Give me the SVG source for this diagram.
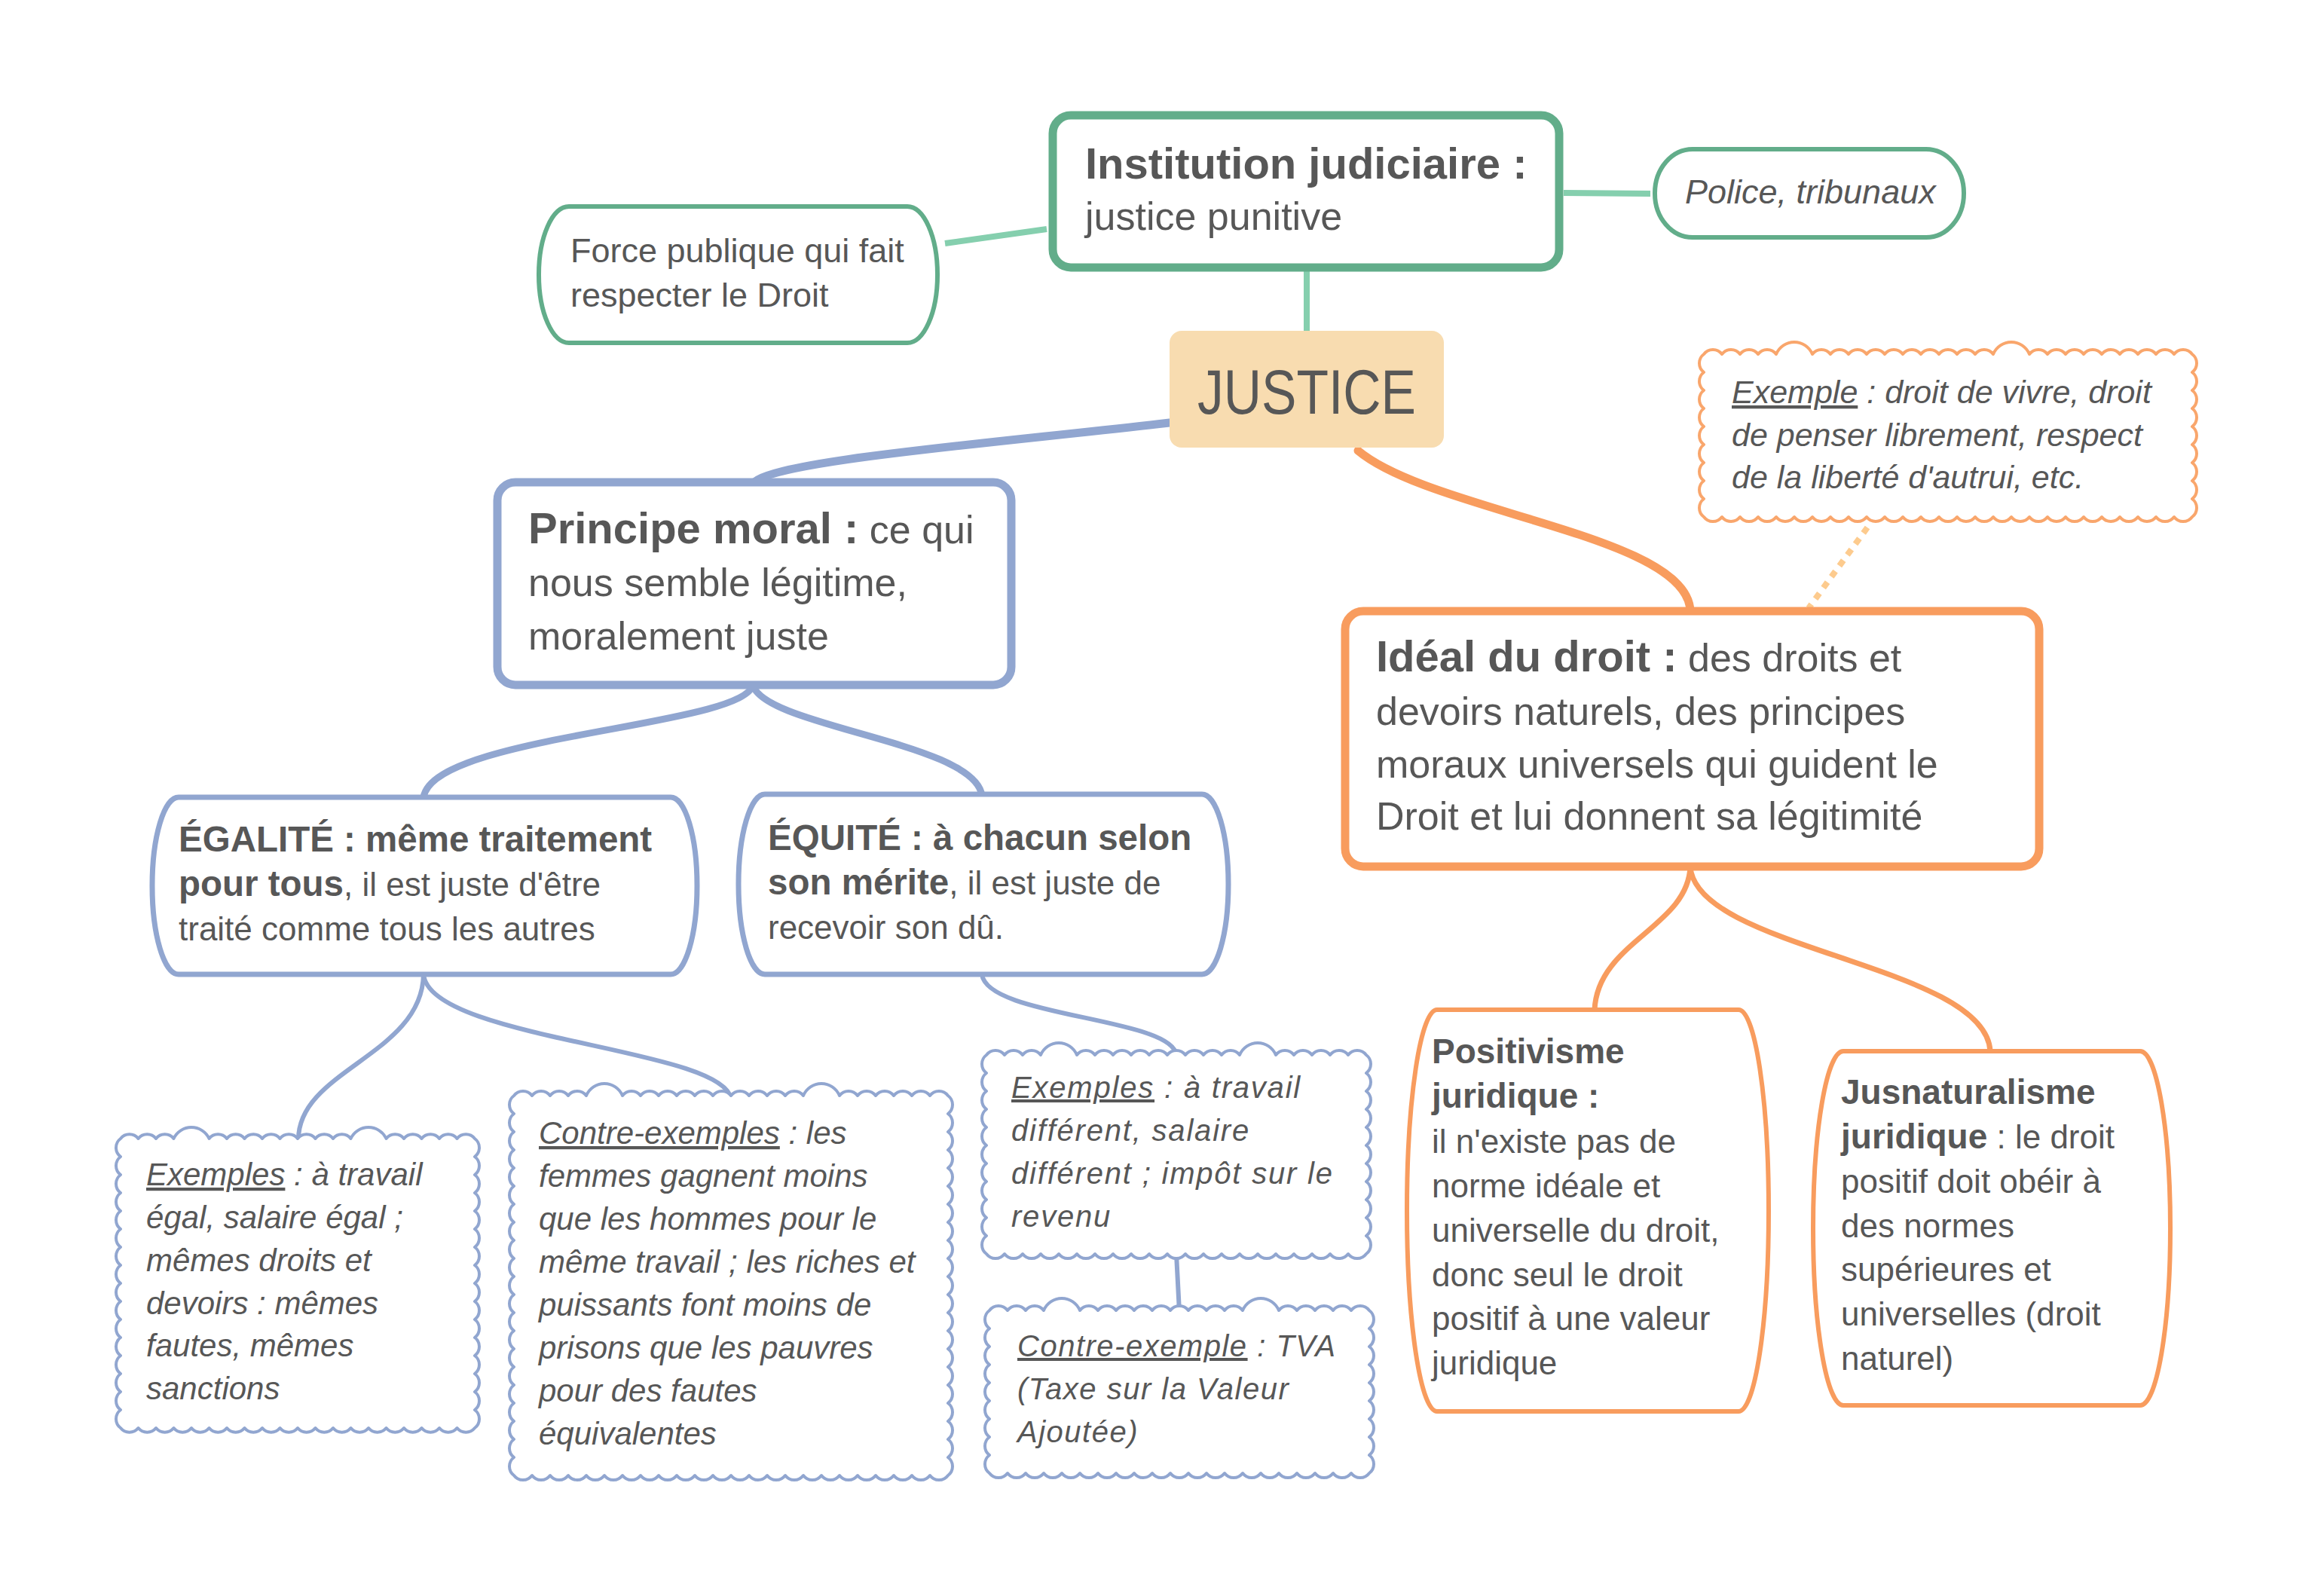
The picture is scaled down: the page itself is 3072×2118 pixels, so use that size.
<svg xmlns="http://www.w3.org/2000/svg" width="3072" height="2118" viewBox="0 0 3072 2118">
<style>
.t{font-family:"Liberation Sans",Arial,sans-serif;fill:#575757}
.b{font-weight:bold}
.i{font-style:italic}
.u{text-decoration:underline}
.g{fill:#fff;stroke:#62AD8A}
.bl{fill:#fff;stroke:#91A6D0}
.or{fill:#fff;stroke:#F89C5E}
.cb{fill:#fff;stroke:#91A6D0;stroke-width:4;stroke-linejoin:round}
.co{fill:#fff;stroke:#F9A66C;stroke-width:4;stroke-linejoin:round}
.cg{fill:none;stroke:#85CFAE;stroke-width:8}
.cbl{fill:none;stroke:#91A6D0;stroke-linecap:round}
.cor{fill:none;stroke:#F89C5E;stroke-linecap:round}
</style>
<rect width="3072" height="2118" fill="#fff"/>
<g id="connectors">
<path class="cg" d="M1254,323 L1389,304"/>
<path class="cg" d="M2075,256 L2190,257"/>
<path class="cg" d="M1734,356 L1734,440"/>
<path class="cbl" stroke-width="11" d="M1552,561 C1300,590 1020,612 999,642"/>
<path class="cbl" stroke-width="9" d="M999,909 C985,965 575,975 562,1058"/>
<path class="cbl" stroke-width="9" d="M999,909 C1015,965 1295,985 1303,1056"/>
<path class="cbl" stroke-width="6" d="M562,1293 C560,1400 396,1420 396,1512"/>
<path class="cbl" stroke-width="6" d="M562,1293 C570,1380 960,1390 970,1458"/>
<path class="cbl" stroke-width="6" d="M1303,1293 C1310,1350 1555,1350 1561,1400"/>
<path class="cbl" stroke-width="6" d="M1561,1664 L1565,1741"/>
<path class="cor" stroke-width="11" d="M1802,598 C1900,680 2240,710 2243,811"/>
<path class="cor" stroke-width="7" d="M2243,1150 C2240,1230 2120,1250 2116,1340"/>
<path class="cor" stroke-width="7" d="M2243,1150 C2250,1260 2635,1280 2641,1395"/>
<path fill="none" stroke="#FDCB8E" stroke-width="8" stroke-dasharray="9 9" d="M2478,700 L2400,807"/>
</g>
<g id="institution">
<rect class="g" x="1397" y="153" width="672" height="202" rx="24" stroke-width="11"/>
<text class="t" x="1440" y="237" font-size="58"><tspan class="b">Institution judiciaire :</tspan></text>
<text class="t" x="1440" y="305" font-size="52">justice punitive</text>
</g>
<g id="force">
<rect class="g" x="715" y="274" width="529" height="181" rx="40" ry="90" stroke-width="6"/>
<text class="t" x="757" y="348" font-size="45">Force publique qui fait</text>
<text class="t" x="757" y="407" font-size="45">respecter le Droit</text>
</g>
<g id="police">
<rect class="g" x="2196" y="198" width="410" height="117" rx="50" ry="58" stroke-width="6"/>
<text class="t i" x="2236" y="270" font-size="45">Police, tribunaux</text>
</g>
<g id="justice">
<rect x="1552" y="439" width="364" height="155" rx="16" fill="#F8DCB0"/>
<text class="t" x="1734" y="549" font-size="84" text-anchor="middle" textLength="290" lengthAdjust="spacingAndGlyphs">JUSTICE</text>
</g>
<g id="exemple-droit">
<path class="co" d="M2261,470 a15,15 0 0 1 24,0 a15,15 0 0 1 24,0 a15,15 0 0 1 24,0 a15,15 0 0 1 24,0 a26,26 0 0 1 48,0 a15,15 0 0 1 24,0 a15,15 0 0 1 24,0 a15,15 0 0 1 24,0 a15,15 0 0 1 24,0 a15,15 0 0 1 24,0 a15,15 0 0 1 24,0 a15,15 0 0 1 24,0 a15,15 0 0 1 24,0 a15,15 0 0 1 24,0 a15,15 0 0 1 24,0 a26,26 0 0 1 48,0 a15,15 0 0 1 24,0 a15,15 0 0 1 24,0 a15,15 0 0 1 24,0 a15,15 0 0 1 24,0 a15,15 0 0 1 24,0 a15,15 0 0 1 24,0 a15,15 0 0 1 24,0 a15,15 0 0 1 24,0 a15,15 0 0 1 24,0 a15,15 0 0 1 0,24 a15,15 0 0 1 0,24 a15,15 0 0 1 0,24 a15,15 0 0 1 0,24 a15,15 0 0 1 0,24 a15,15 0 0 1 0,24 a15,15 0 0 1 0,24 a15,15 0 0 1 0,24 a15,15 0 0 1 0,24 a15,15 0 0 1 -24,0 a15,15 0 0 1 -24,0 a15,15 0 0 1 -24,0 a15,15 0 0 1 -24,0 a15,15 0 0 1 -24,0 a15,15 0 0 1 -24,0 a15,15 0 0 1 -24,0 a15,15 0 0 1 -24,0 a15,15 0 0 1 -24,0 a15,15 0 0 1 -24,0 a15,15 0 0 1 -24,0 a15,15 0 0 1 -24,0 a15,15 0 0 1 -24,0 a15,15 0 0 1 -24,0 a15,15 0 0 1 -24,0 a15,15 0 0 1 -24,0 a15,15 0 0 1 -24,0 a15,15 0 0 1 -24,0 a15,15 0 0 1 -24,0 a15,15 0 0 1 -24,0 a15,15 0 0 1 -24,0 a15,15 0 0 1 -24,0 a15,15 0 0 1 -24,0 a15,15 0 0 1 -24,0 a15,15 0 0 1 -24,0 a15,15 0 0 1 -24,0 a15,15 0 0 1 -24,0 a15,15 0 0 1 0,-24 a15,15 0 0 1 0,-24 a15,15 0 0 1 0,-24 a15,15 0 0 1 0,-24 a15,15 0 0 1 0,-24 a15,15 0 0 1 0,-24 a15,15 0 0 1 0,-24 a15,15 0 0 1 0,-24 a15,15 0 0 1 0,-24 Z"/>
<text class="t i" x="2298" y="535" font-size="43"><tspan class="u">Exemple</tspan> : droit de vivre, droit</text>
<text class="t i" x="2298" y="592" font-size="43">de penser librement, respect</text>
<text class="t i" x="2298" y="648" font-size="43">de la liberté d'autrui, etc.</text>
</g>
<g id="principe">
<rect class="bl" x="660" y="640" width="682" height="269" rx="24" stroke-width="11"/>
<text class="t" x="701" y="721" font-size="52"><tspan class="b" font-size="58">Principe moral :</tspan> ce qui</text>
<text class="t" x="701" y="791" font-size="52">nous semble légitime,</text>
<text class="t" x="701" y="862" font-size="52">moralement juste</text>
</g>
<g id="ideal">
<rect class="or" x="1785" y="811" width="921" height="339" rx="24" stroke-width="11"/>
<text class="t" x="1826" y="891" font-size="52"><tspan class="b" font-size="58">Idéal du droit :</tspan> des droits et</text>
<text class="t" x="1826" y="962" font-size="52">devoirs naturels, des principes</text>
<text class="t" x="1826" y="1032" font-size="52">moraux universels qui guident le</text>
<text class="t" x="1826" y="1101" font-size="52">Droit et lui donnent sa légitimité</text>
</g>
<g id="egalite">
<rect class="bl" x="202" y="1058" width="723" height="235" rx="35" ry="117" stroke-width="7"/>
<text class="t" x="237" y="1130" font-size="44"><tspan class="b" font-size="47.5">ÉGALITÉ : même traitement</tspan></text>
<text class="t" x="237" y="1189" font-size="44"><tspan class="b" font-size="47.5">pour tous</tspan>, il est juste d'être</text>
<text class="t" x="237" y="1248" font-size="44">traité comme tous les autres</text>
</g>
<g id="equite">
<rect class="bl" x="980" y="1054" width="650" height="239" rx="35" ry="119" stroke-width="7"/>
<text class="t" x="1019" y="1128" font-size="44"><tspan class="b" font-size="47.5">ÉQUITÉ : à chacun selon</tspan></text>
<text class="t" x="1019" y="1187" font-size="44"><tspan class="b" font-size="47.5">son mérite</tspan>, il est juste de</text>
<text class="t" x="1019" y="1246" font-size="44">recevoir son dû.</text>
</g>
<g id="exemples-egalite">
<path class="cb" d="M160,1511 a15,15 0 0 1 23.5,0 a15,15 0 0 1 23.5,0 a15,15 0 0 1 23.5,0 a26,26 0 0 1 47,0 a15,15 0 0 1 23.5,0 a15,15 0 0 1 23.5,0 a15,15 0 0 1 23.5,0 a15,15 0 0 1 23.5,0 a15,15 0 0 1 23.5,0 a15,15 0 0 1 23.5,0 a15,15 0 0 1 23.5,0 a15,15 0 0 1 23.5,0 a26,26 0 0 1 47,0 a15,15 0 0 1 23.5,0 a15,15 0 0 1 23.5,0 a15,15 0 0 1 23.5,0 a15,15 0 0 1 23.5,0 a15,15 0 0 1 23.5,0 a15,15 0 0 1 0,24 a15,15 0 0 1 0,24 a15,15 0 0 1 0,24 a15,15 0 0 1 0,24 a15,15 0 0 1 0,24 a15,15 0 0 1 0,24 a15,15 0 0 1 0,24 a15,15 0 0 1 0,24 a15,15 0 0 1 0,24 a15,15 0 0 1 0,24 a15,15 0 0 1 0,24 a15,15 0 0 1 0,24 a15,15 0 0 1 0,24 a15,15 0 0 1 0,24 a15,15 0 0 1 0,24 a15,15 0 0 1 0,24 a15,15 0 0 1 -23.5,0 a15,15 0 0 1 -23.5,0 a15,15 0 0 1 -23.5,0 a15,15 0 0 1 -23.5,0 a15,15 0 0 1 -23.5,0 a15,15 0 0 1 -23.5,0 a15,15 0 0 1 -23.5,0 a15,15 0 0 1 -23.5,0 a15,15 0 0 1 -23.5,0 a15,15 0 0 1 -23.5,0 a15,15 0 0 1 -23.5,0 a15,15 0 0 1 -23.5,0 a15,15 0 0 1 -23.5,0 a15,15 0 0 1 -23.5,0 a15,15 0 0 1 -23.5,0 a15,15 0 0 1 -23.5,0 a15,15 0 0 1 -23.5,0 a15,15 0 0 1 -23.5,0 a15,15 0 0 1 -23.5,0 a15,15 0 0 1 -23.5,0 a15,15 0 0 1 0,-24 a15,15 0 0 1 0,-24 a15,15 0 0 1 0,-24 a15,15 0 0 1 0,-24 a15,15 0 0 1 0,-24 a15,15 0 0 1 0,-24 a15,15 0 0 1 0,-24 a15,15 0 0 1 0,-24 a15,15 0 0 1 0,-24 a15,15 0 0 1 0,-24 a15,15 0 0 1 0,-24 a15,15 0 0 1 0,-24 a15,15 0 0 1 0,-24 a15,15 0 0 1 0,-24 a15,15 0 0 1 0,-24 a15,15 0 0 1 0,-24 Z"/>
<text class="t i" x="194" y="1573" font-size="42"><tspan class="u">Exemples</tspan> : à travail</text>
<text class="t i" x="194" y="1630" font-size="42">égal, salaire égal ;</text>
<text class="t i" x="194" y="1687" font-size="42">mêmes droits et</text>
<text class="t i" x="194" y="1744" font-size="42">devoirs : mêmes</text>
<text class="t i" x="194" y="1800" font-size="42">fautes, mêmes</text>
<text class="t i" x="194" y="1857" font-size="42">sanctions</text>
</g>
<g id="contre-exemples-egalite">
<path class="cb" d="M682,1454 a15,15 0 0 1 24,0 a15,15 0 0 1 24,0 a15,15 0 0 1 24,0 a15,15 0 0 1 24,0 a26,26 0 0 1 48,0 a15,15 0 0 1 24,0 a15,15 0 0 1 24,0 a15,15 0 0 1 24,0 a15,15 0 0 1 24,0 a15,15 0 0 1 24,0 a15,15 0 0 1 24,0 a15,15 0 0 1 24,0 a15,15 0 0 1 24,0 a15,15 0 0 1 24,0 a15,15 0 0 1 24,0 a26,26 0 0 1 48,0 a15,15 0 0 1 24,0 a15,15 0 0 1 24,0 a15,15 0 0 1 24,0 a15,15 0 0 1 24,0 a15,15 0 0 1 24,0 a15,15 0 0 1 24,0 a15,15 0 0 1 0,24 a15,15 0 0 1 0,24 a15,15 0 0 1 0,24 a15,15 0 0 1 0,24 a15,15 0 0 1 0,24 a15,15 0 0 1 0,24 a15,15 0 0 1 0,24 a15,15 0 0 1 0,24 a15,15 0 0 1 0,24 a15,15 0 0 1 0,24 a15,15 0 0 1 0,24 a15,15 0 0 1 0,24 a15,15 0 0 1 0,24 a15,15 0 0 1 0,24 a15,15 0 0 1 0,24 a15,15 0 0 1 0,24 a15,15 0 0 1 0,24 a15,15 0 0 1 0,24 a15,15 0 0 1 0,24 a15,15 0 0 1 0,24 a15,15 0 0 1 0,24 a15,15 0 0 1 -24,0 a15,15 0 0 1 -24,0 a15,15 0 0 1 -24,0 a15,15 0 0 1 -24,0 a15,15 0 0 1 -24,0 a15,15 0 0 1 -24,0 a15,15 0 0 1 -24,0 a15,15 0 0 1 -24,0 a15,15 0 0 1 -24,0 a15,15 0 0 1 -24,0 a15,15 0 0 1 -24,0 a15,15 0 0 1 -24,0 a15,15 0 0 1 -24,0 a15,15 0 0 1 -24,0 a15,15 0 0 1 -24,0 a15,15 0 0 1 -24,0 a15,15 0 0 1 -24,0 a15,15 0 0 1 -24,0 a15,15 0 0 1 -24,0 a15,15 0 0 1 -24,0 a15,15 0 0 1 -24,0 a15,15 0 0 1 -24,0 a15,15 0 0 1 -24,0 a15,15 0 0 1 -24,0 a15,15 0 0 1 0,-24 a15,15 0 0 1 0,-24 a15,15 0 0 1 0,-24 a15,15 0 0 1 0,-24 a15,15 0 0 1 0,-24 a15,15 0 0 1 0,-24 a15,15 0 0 1 0,-24 a15,15 0 0 1 0,-24 a15,15 0 0 1 0,-24 a15,15 0 0 1 0,-24 a15,15 0 0 1 0,-24 a15,15 0 0 1 0,-24 a15,15 0 0 1 0,-24 a15,15 0 0 1 0,-24 a15,15 0 0 1 0,-24 a15,15 0 0 1 0,-24 a15,15 0 0 1 0,-24 a15,15 0 0 1 0,-24 a15,15 0 0 1 0,-24 a15,15 0 0 1 0,-24 a15,15 0 0 1 0,-24 Z"/>
<text class="t i" x="715" y="1518" font-size="42"><tspan class="u">Contre-exemples</tspan> : les</text>
<text class="t i" x="715" y="1575" font-size="42">femmes gagnent moins</text>
<text class="t i" x="715" y="1632" font-size="42">que les hommes pour le</text>
<text class="t i" x="715" y="1689" font-size="42">même travail ; les riches et</text>
<text class="t i" x="715" y="1746" font-size="42">puissants font moins de</text>
<text class="t i" x="715" y="1803" font-size="42">prisons que les pauvres</text>
<text class="t i" x="715" y="1860" font-size="42">pour des fautes</text>
<text class="t i" x="715" y="1917" font-size="42">équivalentes</text>
</g>
<g id="exemples-equite">
<path class="cb" d="M1309,1400 a15,15 0 0 1 24,0 a15,15 0 0 1 24,0 a15,15 0 0 1 24,0 a26,26 0 0 1 48,0 a15,15 0 0 1 24,0 a15,15 0 0 1 24,0 a15,15 0 0 1 24,0 a15,15 0 0 1 24,0 a15,15 0 0 1 24,0 a15,15 0 0 1 24,0 a15,15 0 0 1 24,0 a15,15 0 0 1 24,0 a15,15 0 0 1 24,0 a26,26 0 0 1 48,0 a15,15 0 0 1 24,0 a15,15 0 0 1 24,0 a15,15 0 0 1 24,0 a15,15 0 0 1 24,0 a15,15 0 0 1 24,0 a15,15 0 0 1 0,24 a15,15 0 0 1 0,24 a15,15 0 0 1 0,24 a15,15 0 0 1 0,24 a15,15 0 0 1 0,24 a15,15 0 0 1 0,24 a15,15 0 0 1 0,24 a15,15 0 0 1 0,24 a15,15 0 0 1 0,24 a15,15 0 0 1 0,24 a15,15 0 0 1 0,24 a15,15 0 0 1 -24,0 a15,15 0 0 1 -24,0 a15,15 0 0 1 -24,0 a15,15 0 0 1 -24,0 a15,15 0 0 1 -24,0 a15,15 0 0 1 -24,0 a15,15 0 0 1 -24,0 a15,15 0 0 1 -24,0 a15,15 0 0 1 -24,0 a15,15 0 0 1 -24,0 a15,15 0 0 1 -24,0 a15,15 0 0 1 -24,0 a15,15 0 0 1 -24,0 a15,15 0 0 1 -24,0 a15,15 0 0 1 -24,0 a15,15 0 0 1 -24,0 a15,15 0 0 1 -24,0 a15,15 0 0 1 -24,0 a15,15 0 0 1 -24,0 a15,15 0 0 1 -24,0 a15,15 0 0 1 -24,0 a15,15 0 0 1 0,-24 a15,15 0 0 1 0,-24 a15,15 0 0 1 0,-24 a15,15 0 0 1 0,-24 a15,15 0 0 1 0,-24 a15,15 0 0 1 0,-24 a15,15 0 0 1 0,-24 a15,15 0 0 1 0,-24 a15,15 0 0 1 0,-24 a15,15 0 0 1 0,-24 a15,15 0 0 1 0,-24 Z"/>
<text class="t i" x="1342" y="1457" font-size="40" letter-spacing="1.8"><tspan class="u">Exemples</tspan> : à travail</text>
<text class="t i" x="1342" y="1514" font-size="40" letter-spacing="1.8">différent, salaire</text>
<text class="t i" x="1342" y="1571" font-size="40" letter-spacing="1.8">différent ; impôt sur le</text>
<text class="t i" x="1342" y="1628" font-size="40" letter-spacing="1.8">revenu</text>
</g>
<g id="contre-exemple-tva">
<path class="cb" d="M1313,1739 a15,15 0 0 1 24,0 a15,15 0 0 1 24,0 a15,15 0 0 1 24,0 a26,26 0 0 1 48,0 a15,15 0 0 1 24,0 a15,15 0 0 1 24,0 a15,15 0 0 1 24,0 a15,15 0 0 1 24,0 a15,15 0 0 1 24,0 a15,15 0 0 1 24,0 a15,15 0 0 1 24,0 a15,15 0 0 1 24,0 a15,15 0 0 1 24,0 a26,26 0 0 1 48,0 a15,15 0 0 1 24,0 a15,15 0 0 1 24,0 a15,15 0 0 1 24,0 a15,15 0 0 1 24,0 a15,15 0 0 1 24,0 a15,15 0 0 1 0,24 a15,15 0 0 1 0,24 a15,15 0 0 1 0,24 a15,15 0 0 1 0,24 a15,15 0 0 1 0,24 a15,15 0 0 1 0,24 a15,15 0 0 1 0,24 a15,15 0 0 1 0,24 a15,15 0 0 1 0,24 a15,15 0 0 1 -24,0 a15,15 0 0 1 -24,0 a15,15 0 0 1 -24,0 a15,15 0 0 1 -24,0 a15,15 0 0 1 -24,0 a15,15 0 0 1 -24,0 a15,15 0 0 1 -24,0 a15,15 0 0 1 -24,0 a15,15 0 0 1 -24,0 a15,15 0 0 1 -24,0 a15,15 0 0 1 -24,0 a15,15 0 0 1 -24,0 a15,15 0 0 1 -24,0 a15,15 0 0 1 -24,0 a15,15 0 0 1 -24,0 a15,15 0 0 1 -24,0 a15,15 0 0 1 -24,0 a15,15 0 0 1 -24,0 a15,15 0 0 1 -24,0 a15,15 0 0 1 -24,0 a15,15 0 0 1 -24,0 a15,15 0 0 1 0,-24 a15,15 0 0 1 0,-24 a15,15 0 0 1 0,-24 a15,15 0 0 1 0,-24 a15,15 0 0 1 0,-24 a15,15 0 0 1 0,-24 a15,15 0 0 1 0,-24 a15,15 0 0 1 0,-24 a15,15 0 0 1 0,-24 Z"/>
<text class="t i" x="1350" y="1800" font-size="40" letter-spacing="1.5"><tspan class="u">Contre-exemple</tspan> : TVA</text>
<text class="t i" x="1350" y="1857" font-size="40" letter-spacing="1.5">(Taxe sur la Valeur</text>
<text class="t i" x="1350" y="1914" font-size="40" letter-spacing="1.5">Ajoutée)</text>
</g>
<g id="positivisme">
<rect class="or" x="1867" y="1340" width="480" height="533" rx="40" ry="266" stroke-width="6"/>
<text class="t b" x="1900" y="1411" font-size="46">Positivisme</text>
<text class="t b" x="1900" y="1470" font-size="46">juridique :</text>
<text class="t" x="1900" y="1530" font-size="44">il n'existe pas de</text>
<text class="t" x="1900" y="1589" font-size="44">norme idéale et</text>
<text class="t" x="1900" y="1648" font-size="44">universelle du droit,</text>
<text class="t" x="1900" y="1707" font-size="44">donc seul le droit</text>
<text class="t" x="1900" y="1765" font-size="44">positif à une valeur</text>
<text class="t" x="1900" y="1824" font-size="44">juridique</text>
</g>
<g id="jusnaturalisme">
<rect class="or" x="2406" y="1395" width="474" height="470" rx="40" ry="235" stroke-width="6"/>
<text class="t b" x="2443" y="1465" font-size="46">Jusnaturalisme</text>
<text class="t" x="2443" y="1524" font-size="44"><tspan class="b" font-size="46">juridique</tspan> : le droit</text>
<text class="t" x="2443" y="1583" font-size="44">positif doit obéir à</text>
<text class="t" x="2443" y="1642" font-size="44">des normes</text>
<text class="t" x="2443" y="1700" font-size="44">supérieures et</text>
<text class="t" x="2443" y="1759" font-size="44">universelles (droit</text>
<text class="t" x="2443" y="1818" font-size="44">naturel)</text>
</g>
</svg>
